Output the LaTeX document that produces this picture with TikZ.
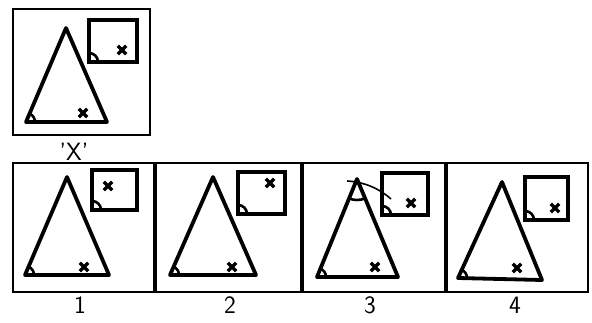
\documentclass[tikz,border=0pt]{standalone}
\usetikzlibrary{angles,calc}
\begin{document}
\begin{tikzpicture}[x=1pt,y=-1pt,
  frame/.style={line width=2.2pt},
  divider/.style={line width=3.5pt},
  tri/.style={line width=3.8pt,line join=round},
  sq/.style={line width=3.2pt},
  ang/.style={draw,line width=2.6pt,angle radius=9pt},
  lbl/.style={font=\sffamily\fontsize{25}{25}\selectfont},
  xm/.pic={\draw[line width=3.4pt] (-4.2,-4.2)--(4.2,4.2) (-4.2,4.2)--(4.2,-4.2);}]
\useasboundingbox (0,0) rectangle (592,322);
% top reference figure
\draw[frame] (13,9) rectangle (150,135);
\coordinate (xa) at (66,28); \coordinate (xb) at (26,122); \coordinate (xc) at (107,122);
\draw[tri] (xa)--(xb)--(xc)--cycle;
\pic[ang] {angle=xc--xb--xa};
\pic at (83,113) {xm};
\draw[sq] (89,20) rectangle (137,62);
\coordinate (xs1) at (89,62); \coordinate (xs1r) at (137,62); \coordinate (xs1u) at (89,20);
\pic[ang] {angle=xs1r--xs1--xs1u};
\pic at (122,50) {xm};
\node[lbl] (xl) at (74,152) {'X'};
% bottom row
\draw[frame] (13,163) rectangle (588,292);
\draw[divider] (155,163)--(155,292) (302,163)--(302,292) (446,163)--(446,292);
% panel 1
\coordinate (a1) at (67,177); \coordinate (b1) at (25,275); \coordinate (c1) at (109,275);
\draw[tri] (a1)--(b1)--(c1)--cycle;
\pic[ang] {angle=c1--b1--a1};
\pic at (84,267) {xm};
\draw[sq] (92,170) rectangle (137,210);
\coordinate (s1) at (92,210); \coordinate (s1r) at (137,210); \coordinate (s1u) at (92,170);
\pic[ang] {angle=s1r--s1--s1u};
\pic at (108,186) {xm};
\node[lbl] (l1) at (80,305) {1};
% panel 2
\coordinate (a2) at (213,177); \coordinate (b2) at (170,275); \coordinate (c2) at (256,275);
\draw[tri] (a2)--(b2)--(c2)--cycle;
\pic[ang] {angle=c2--b2--a2};
\pic at (232,267) {xm};
\draw[sq] (238,172) rectangle (285,214);
\coordinate (s2) at (238,214); \coordinate (s2r) at (285,214); \coordinate (s2u) at (238,172);
\pic[ang] {angle=s2r--s2--s2u};
\pic at (270,183) {xm};
\node[lbl] (l2) at (230,305) {2};
% panel 3
\coordinate (a3) at (357,179); \coordinate (b3) at (317,277); \coordinate (c3) at (398,277);
\draw[tri] (a3)--(b3)--(c3)--cycle;
\pic[ang] {angle=c3--b3--a3};
\pic[draw,line width=2.6pt,angle radius=21pt] {angle=b3--a3--c3};
\pic at (375,267) {xm};
\draw[sq] (382,173) rectangle (428,215);
\coordinate (s3) at (382,215); \coordinate (s3r) at (428,215); \coordinate (s3u) at (382,173);
\pic[ang] {angle=s3r--s3--s3u};
\pic at (411,203) {xm};
\coordinate (p3) at (347,181); \coordinate (q3) at (391,199);
\draw[line width=1.6pt] (p3) .. controls (365,182) and (380,189) .. (q3);
\node[lbl] (l3) at (370,305) {3};
% panel 4
\coordinate (a4) at (502,182); \coordinate (b4) at (458,278); \coordinate (c4) at (542,280);
\draw[tri] (a4)--(b4)--(c4)--cycle;
\pic[ang] {angle=c4--b4--a4};
\pic at (517,268) {xm};
\draw[sq] (525,177) rectangle (568,220);
\coordinate (s4) at (525,220); \coordinate (s4r) at (568,220); \coordinate (s4u) at (525,177);
\pic[ang] {angle=s4r--s4--s4u};
\pic at (555,208) {xm};
\node[lbl] (l4) at (515,305) {4};
\end{tikzpicture}
\end{document}
